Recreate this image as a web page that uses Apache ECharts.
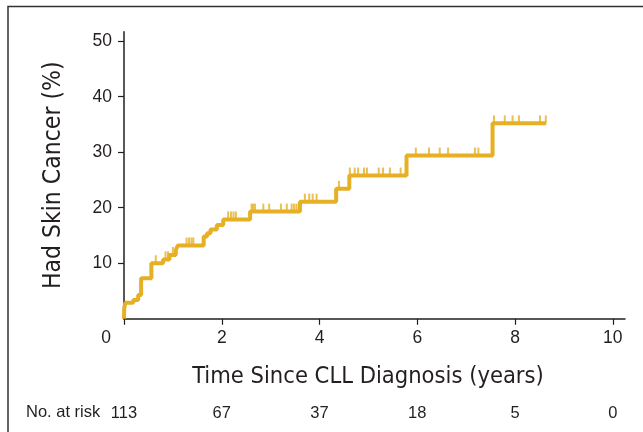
<!DOCTYPE html>
<html>
<head>
<meta charset="utf-8">
<script src="https://cdn.jsdelivr.net/npm/echarts@6/dist/echarts.min.js"></script>
<style>html,body{margin:0;padding:0;background:#fff}#c{width:643px;height:432px}</style>
</head>
<body>
<div id="c"></div>
<script>
// Step curve: [time (years), cumulative % with skin cancer]
const stepTimes = [0, 0.005, 0.03, 0.19, 0.29, 0.35, 0.56, 0.8, 0.93, 1.06, 1.1, 1.63, 1.7, 1.77, 1.9, 2.03, 2.58, 3.6, 4.34, 4.61, 5.78, 7.54, 8.64];
const stepValues = [0, 2.0, 2.9, 3.4, 4.3, 7.3, 10.0, 10.7, 11.5, 12.4, 13.2, 14.8, 15.4, 16.1, 16.9, 17.9, 19.3, 21.1, 23.4, 25.8, 29.4, 35.2, 35.2];
// Censor marks
const censorTimes = [0.65, 0.85, 0.9, 1.0, 1.28, 1.33, 1.38, 1.42, 2.13, 2.19, 2.24, 2.29,
  2.61, 2.64, 2.68, 2.85, 2.97, 3.21, 3.33, 3.43, 3.48, 3.53,
  3.70, 3.79, 3.86, 3.94, 4.40,
  4.62, 4.72, 4.79, 4.91, 4.97, 5.21, 5.30, 5.44, 5.66,
  5.97, 6.24, 6.46, 6.63, 7.18, 7.25,
  7.57, 7.79, 7.95, 8.08, 8.51, 8.63];
const censorValues = [10.0, 10.7, 10.7, 11.5, 13.2, 13.2, 13.2, 13.2, 17.9, 17.9, 17.9, 17.9,
  19.3, 19.3, 19.3, 19.3, 19.3, 19.3, 19.3, 19.3, 19.3, 19.3,
  21.1, 21.1, 21.1, 21.1, 23.4,
  25.8, 25.8, 25.8, 25.8, 25.8, 25.8, 25.8, 25.8, 25.8,
  29.4, 29.4, 29.4, 29.4, 29.4, 29.4,
  35.2, 35.2, 35.2, 35.2, 35.2, 35.2];
// Axis ticks and number at risk
const xTicks = [0, 2, 4, 6, 8, 10];
const yTicks = [10, 20, 30, 40, 50];
const riskTimes = [0, 2, 4, 6, 8, 10];
const riskCounts = [113, 67, 37, 18, 5, 0];

const gold = '#E6B024';
const ink = '#231f20';
const narrow = "'DejaVu Sans Condensed', 'Liberation Sans', sans-serif";
const regular = "'Liberation Sans', Arial, sans-serif";

const chart = echarts.init(document.getElementById('c'), null, {renderer: 'canvas'});
chart.setOption({
  animation: false,
  backgroundColor: '#fff',
  grid: {left: 124, right: 18, top: 31.7, bottom: 113.2, containLabel: false},
  xAxis: [{
    type: 'value', min: 0, max: 10.25,
    axisLine: {show: true, lineStyle: {color: ink, width: 1.5}},
    axisTick: {show: true, customValues: xTicks, length: 6, lineStyle: {color: ink, width: 1.2}},
    axisLabel: {customValues: xTicks.filter(v => v !== 0), margin: 10, color: ink, fontSize: 17.5, fontFamily: regular},
    splitLine: {show: false}
  }, {
    type: 'value', min: 0, max: 10.25, position: 'bottom', offset: 84,
    axisLine: {show: false}, axisTick: {show: false}, splitLine: {show: false},
    axisLabel: {customValues: riskTimes, margin: 2, color: ink, fontSize: 16.5, fontFamily: regular,
      formatter: v => String(riskCounts[riskTimes.indexOf(v)])}
  }],
  yAxis: {
    type: 'value', min: 0, max: 51.7,
    name: 'Had Skin Cancer (%)', nameLocation: 'middle', nameGap: 58, nameRotate: 90,
    nameTextStyle: {color: ink, fontSize: 24.5, fontFamily: narrow},
    axisLine: {show: true, lineStyle: {color: ink, width: 1.5}},
    axisTick: {show: true, customValues: yTicks, length: 6, lineStyle: {color: ink, width: 1.2}},
    axisLabel: {customValues: yTicks, margin: 12, color: ink, fontSize: 17.5, fontFamily: regular},
    splitLine: {show: false}
  },
  series: [{
    type: 'line', step: 'end', showSymbol: false,
    data: stepTimes.map((t, i) => [t, stepValues[i]]),
    lineStyle: {color: gold, width: 4}, itemStyle: {color: gold}, z: 3
  }, {
    type: 'scatter', symbol: 'rect', symbolSize: [2, 7], symbolOffset: [0, -4.5],
    data: censorTimes.map((t, i) => [t, censorValues[i]]),
    itemStyle: {color: gold}, z: 4
  }],
  graphic: [
    {type: 'polyline', shape: {points: [[8, 432], [8, 6.5], [643, 6.5]]}, style: {stroke: '#333', lineWidth: 1.5, fill: null}, silent: true},
    {type: 'text', x: 106, y: 338, style: {text: '0', fill: ink, font: '17.5px ' + regular, align: 'center', verticalAlign: 'middle'}},
    {type: 'text', x: 368, y: 377, style: {text: 'Time Since CLL Diagnosis (years)', fill: ink, font: '23.5px ' + narrow, align: 'center', verticalAlign: 'middle'}},
    {type: 'text', x: 26, y: 412, style: {text: 'No. at risk', fill: ink, font: '16.5px ' + regular, align: 'left', verticalAlign: 'middle'}}
  ]
});
</script>
</body>
</html>
